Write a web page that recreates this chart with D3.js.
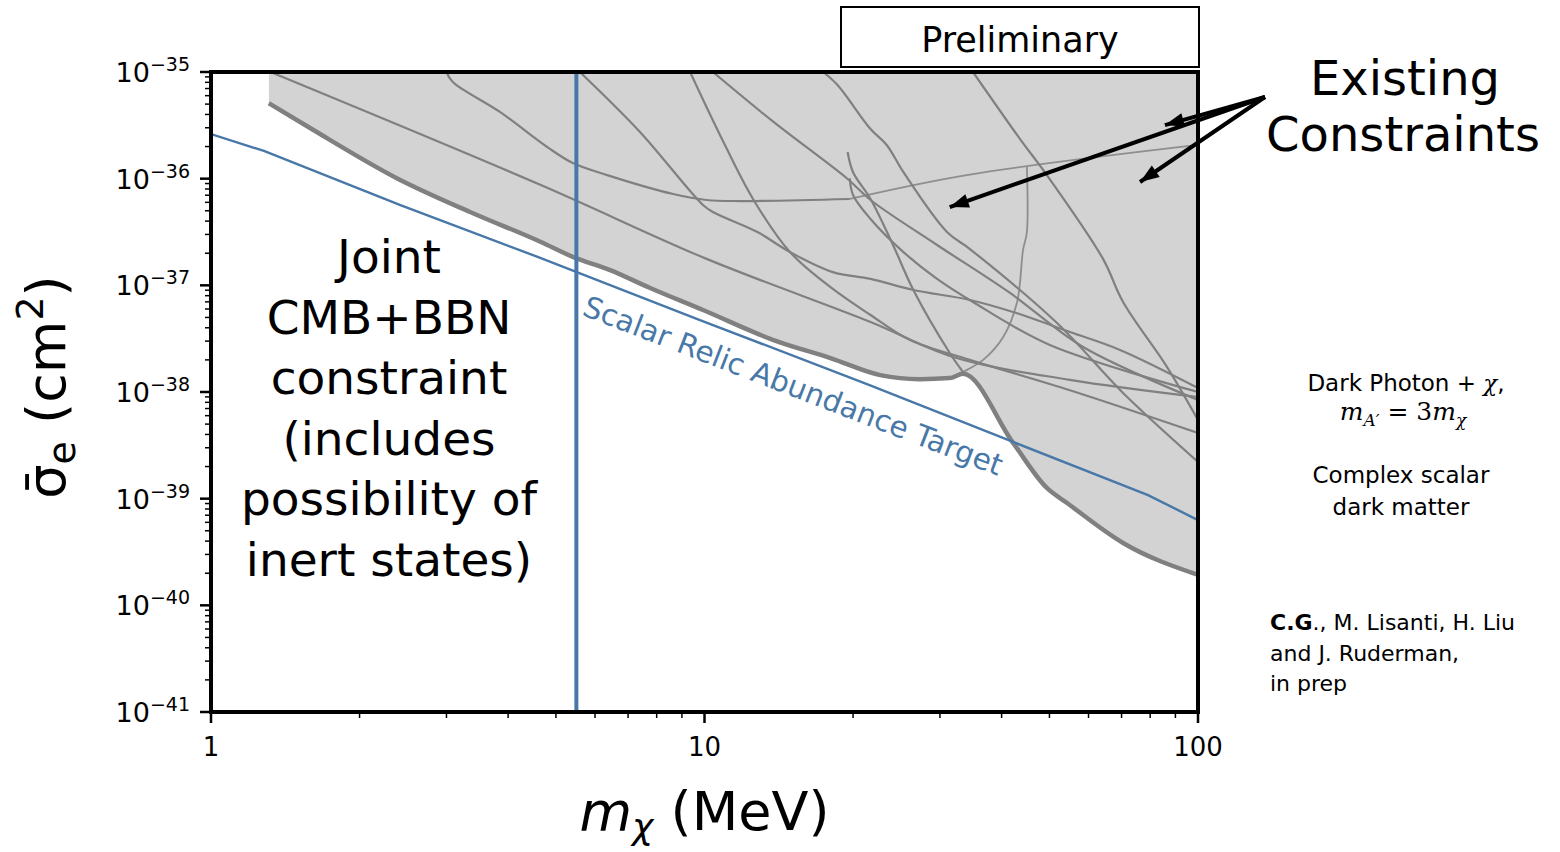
<!DOCTYPE html>
<html>
<head>
<meta charset="utf-8">
<script src="https://cdn.jsdelivr.net/npm/d3@7"></script>
<style>
  body { margin: 0; background: #fff; }
  svg { display: block; font-family: "DejaVu Sans", sans-serif; }
</style>
</head>
<body>
<svg id="chart" width="1560" height="852"></svg>
<script>
// axis ranges
const massDomain = [1, 100];          // MeV
const sigmaDomain = [1e-41, 1e-35];   // cm^2
const xTickValues = [1, 10, 100];
const yTickExponents = [-35, -36, -37, -38, -39, -40, -41];

// joint CMB+BBN bound (vertical line)
const cmbBbnMass = 5.5;

// scalar relic abundance target
const relicTarget = [
  [1, 2.62e-36], [1.28, 1.82e-36], [2.42, 5.66e-37], [4.66, 1.80e-37],
  [9.79, 4.73e-38], [21.6, 1.16e-38], [42.2, 3.40e-39], [79.2, 1.08e-39], [100, 6.3e-40]
];

// lower edge of the excluded region (thick grey)
const envelope = [
  [1.31, 5.1e-36], [1.6, 2.92e-36], [2.39, 1.0e-36], [3.35, 4.87e-37], [4.66, 2.55e-37],
  [5.41, 1.85e-37], [6.44, 1.39e-37], [7.76, 9.44e-38], [9.93, 5.87e-38], [13.8, 3.07e-38],
  [18.0, 2.08e-38], [22.7, 1.44e-38], [27.3, 1.32e-38], [31.4, 1.35e-38], [33.4, 1.48e-38],
  [42.2, 3.33e-39], [49.4, 1.26e-39], [54.3, 9.1e-40], [70.5, 3.84e-40], [100, 1.93e-40]
];

// individual existing constraints (thin grey)
const curve1 = [[1.32, 1e-35], [4.66, 8.72e-37], [10.1, 1.77e-37], [21.7, 4.53e-38], [31.9, 2.13e-38], [55, 1.30e-38], [100, 8.98e-39]];
const curve2 = [[3.0, 1e-35], [3.09, 8.05e-36], [3.85, 4.22e-36], [4.8, 1.98e-36], [5.41, 1.40e-36], [6.35, 1.08e-36], [8.64, 7.18e-37], [10.1, 6.31e-37], [11.8, 6.17e-37], [19.7, 6.45e-37]];
const curve3 = [[5.59, 1e-35], [7.40, 2.74e-36], [9.93, 5.66e-37], [10.4, 4.87e-37], [12.8, 3.16e-37], [14.9, 2.05e-37], [18.2, 1.33e-37], [21.7, 1.15e-37], [26.5, 9.04e-38], [34.5, 7.29e-38], [42.2, 5.62e-38], [55, 3.65e-38], [69.5, 2.48e-38], [100, 1.09e-38]];
const curve4 = [[9.35, 1e-35], [10.75, 2.57e-36], [12.54, 6.45e-37], [14.9, 2.05e-37], [18.2, 9.24e-38], [21.7, 5.27e-38], [26.1, 3.07e-38], [34.5, 2.0e-38], [55, 1.04e-38], [100, 4.13e-39]];
const curve5 = [[10.4, 1e-35], [13.8, 3.40e-36], [19.5, 9.93e-37], [21.7, 6.31e-37], [29.6, 2.39e-37], [41.6, 8.48e-38], [58.5, 2.64e-38], [100, 8.41e-39]];
const curve6 = [[17.4, 1e-35], [18.6, 7.55e-36], [21.7, 2.92e-36], [23.4, 2.07e-36], [25.3, 1.15e-36], [31.0, 3.16e-37], [34.5, 2.19e-37], [51.8, 4.43e-38], [70.5, 9.79e-39], [100, 2.21e-39]];
const curve7 = [[19.5, 1.78e-36], [20.0, 1.15e-36], [21.7, 6.45e-37], [24.1, 2.39e-37], [26.5, 9.04e-38], [31.4, 2.32e-38], [33.4, 1.54e-38]];
const curve8 = [[19.7, 1.01e-36], [20.0, 7.03e-37], [21.7, 4.19e-37], [25.3, 2.05e-37], [29.6, 1.15e-37], [35.0, 6.98e-38], [50.1, 2.76e-38], [100, 1.0e-38]];
const curve9 = [[35, 1e-35], [43.6, 2.35e-36], [49.4, 1.08e-36], [64.2, 1.77e-37], [70.5, 6.98e-38], [86.5, 1.72e-38], [100, 5.46e-39]];
// lighter ones
const curve2b = [[19.7, 6.45e-37], [34.0, 1.08e-36], [100, 2.07e-36]];
const curve10 = [[45.0, 1.31e-36], [45.0, 3.16e-37], [44.2, 2.14e-37], [43.0, 6.98e-38], [40.3, 3.28e-38], [36.7, 2.0e-38], [33.4, 1.54e-38], [31.4, 1.35e-38]];

const darkCurves = [curve1, curve2, curve3, curve4, curve5, curve6, curve7, curve8, curve9];
const lightCurves = [curve2b, curve10];

// where the "Existing Constraints" arrows point
const arrowTargets = [[85.7, 3.18e-36], [31.4, 5.42e-37], [76.3, 9.31e-37]];

const jointLines = ["Joint", "CMB+BBN", "constraint", "(includes", "possibility of", "inert states)"];

const blue = "#4878a8";
const grey = "#808080";

const svg = d3.select("#chart");
const width = +svg.attr("width");
const height = +svg.attr("height");
const margin = {top: 72, right: 362, bottom: 140, left: 211};

const x = d3.scaleLog().domain(massDomain).range([margin.left, width - margin.right]);
const y = d3.scaleLog().domain(sigmaDomain).range([height - margin.bottom, margin.top]);

svg.append("defs").append("clipPath").attr("id", "plotclip")
  .append("rect")
    .attr("x", margin.left).attr("y", margin.top)
    .attr("width", x.range()[1] - margin.left)
    .attr("height", y.range()[0] - margin.top);

svg.select("defs").append("marker")
    .attr("id", "head")
    .attr("markerUnits", "userSpaceOnUse")
    .attr("viewBox", "-20 -9 22 18")
    .attr("markerWidth", 22).attr("markerHeight", 18)
    .attr("refX", 0).attr("refY", 0)
    .attr("orient", "auto")
  .append("path")
    .attr("d", "M0,0 L-19,-7 L-19,7 Z")
    .attr("fill", "#000");

const plot = svg.append("g").attr("clip-path", "url(#plotclip)");

const smooth = d3.line().x(d => x(d[0])).y(d => y(d[1])).curve(d3.curveCatmullRom.alpha(0.5));
const straight = d3.line().x(d => x(d[0])).y(d => y(d[1]));
const edge = d3.line().x(d => x(d[0])).y(d => y(d[1])).curve(d3.curveMonotoneX);

// shaded excluded region
const shade = [[envelope[0][0], sigmaDomain[1]], [massDomain[1], sigmaDomain[1]]];
plot.append("path")
    .attr("d", straight(shade) + "L" + edge(envelope.slice().reverse()).slice(1) + "Z")
    .attr("fill", "#d3d3d3");

plot.selectAll(".lite").data(lightCurves).enter().append("path")
    .attr("class", "lite")
    .attr("d", smooth)
    .attr("fill", "none")
    .attr("stroke", "#8e8e8e")
    .attr("stroke-width", 1.8);

plot.selectAll(".cons").data(darkCurves).enter().append("path")
    .attr("class", "cons")
    .attr("d", smooth)
    .attr("fill", "none")
    .attr("stroke", grey)
    .attr("stroke-width", 2.2);

plot.append("path")
    .attr("d", edge(envelope))
    .attr("fill", "none")
    .attr("stroke", grey)
    .attr("stroke-width", 4.5)
    .attr("stroke-linejoin", "round");

plot.append("path")
    .attr("d", straight(relicTarget))
    .attr("fill", "none")
    .attr("stroke", blue)
    .attr("stroke-width", 2.4);

plot.append("line")
    .attr("x1", x(cmbBbnMass)).attr("x2", x(cmbBbnMass))
    .attr("y1", y(sigmaDomain[1])).attr("y2", y(sigmaDomain[0]))
    .attr("stroke", blue)
    .attr("stroke-width", 4);

// label along the relic line
const p0 = [x(relicTarget[3][0]), y(relicTarget[3][1])];
const p1 = [x(relicTarget[5][0]), y(relicTarget[5][1])];
const angle = Math.atan2(p1[1] - p0[1], p1[0] - p0[0]) * 180 / Math.PI;
svg.append("text")
    .attr("transform", `translate(${x(5.62)},${y(5.3e-38)}) rotate(${angle})`)
    .attr("font-size", 29.5)
    .attr("fill", blue)
    .text("Scalar Relic Abundance Target");

// joint constraint text
svg.append("text")
    .attr("text-anchor", "middle")
    .attr("font-size", 47)
    .selectAll("tspan").data(jointLines).enter().append("tspan")
    .attr("x", 389)
    .attr("y", (d, i) => 273 + i * 60.6)
    .text(d => d);

// frame
svg.append("rect")
    .attr("x", margin.left).attr("y", margin.top)
    .attr("width", x.range()[1] - margin.left)
    .attr("height", y.range()[0] - margin.top)
    .attr("fill", "none")
    .attr("stroke", "#000")
    .attr("stroke-width", 4);

// y ticks
const yMinor = [];
for (let k = -41; k < -35; k++) for (let j = 2; j <= 9; j++) yMinor.push(j * Math.pow(10, k));
const yMajor = yTickExponents.map(e => Math.pow(10, e));
svg.append("g").selectAll("line").data(yMinor).enter().append("line")
    .attr("x1", margin.left - 6).attr("x2", margin.left)
    .attr("y1", d => y(d)).attr("y2", d => y(d))
    .attr("stroke", "#000").attr("stroke-width", 1.5);
svg.append("g").selectAll("line").data(yMajor).enter().append("line")
    .attr("x1", margin.left - 11).attr("x2", margin.left)
    .attr("y1", d => y(d)).attr("y2", d => y(d))
    .attr("stroke", "#000").attr("stroke-width", 2.5);
const yLab = svg.append("g").selectAll("text").data(yTickExponents).enter().append("text")
    .attr("x", margin.left - 21)
    .attr("y", d => y(Math.pow(10, d)) + 10)
    .attr("text-anchor", "end")
    .attr("font-size", 27);
yLab.append("tspan").text("10");
yLab.append("tspan").attr("dy", -11).attr("font-size", 19).text(d => "\u2212" + (-d));

// x ticks
const xMinor = [];
for (let k = 0; k < 2; k++) for (let j = 2; j <= 9; j++) xMinor.push(j * Math.pow(10, k));
const xBase = y.range()[0];
svg.append("g").selectAll("line").data(xMinor).enter().append("line")
    .attr("x1", d => x(d)).attr("x2", d => x(d))
    .attr("y1", xBase).attr("y2", xBase + 6)
    .attr("stroke", "#000").attr("stroke-width", 1.5);
svg.append("g").selectAll("line").data(xTickValues).enter().append("line")
    .attr("x1", d => x(d)).attr("x2", d => x(d))
    .attr("y1", xBase).attr("y2", xBase + 11)
    .attr("stroke", "#000").attr("stroke-width", 2.5);
svg.append("g").selectAll("text").data(xTickValues).enter().append("text")
    .attr("x", d => x(d))
    .attr("y", xBase + 44)
    .attr("text-anchor", "middle")
    .attr("font-size", 26)
    .text(d => d);

// axis titles
const xt = svg.append("text")
    .attr("x", (margin.left + x.range()[1]) / 2)
    .attr("y", 830)
    .attr("text-anchor", "middle")
    .attr("font-size", 54);
xt.append("tspan").attr("font-style", "italic").text("m");
xt.append("tspan").attr("font-style", "italic").attr("font-size", 36).attr("dy", 9).text("\u03c7");
xt.append("tspan").attr("dy", -9).text(" (MeV)");

const yt = svg.append("text")
    .attr("transform", "translate(65,387) rotate(-90)")
    .attr("text-anchor", "middle")
    .attr("font-size", 54);
yt.append("tspan").text("\u03c3\u0304");
yt.append("tspan").attr("font-size", 38).attr("dy", 10).text("e");
yt.append("tspan").attr("dy", -10).text(" (cm");
yt.append("tspan").attr("font-size", 38).attr("dy", -22).text("2");
yt.append("tspan").attr("dy", 22).text(")");

// "Preliminary" box
svg.append("rect")
    .attr("x", 841).attr("y", 7).attr("width", 358).attr("height", 60)
    .attr("fill", "#fff").attr("stroke", "#000").attr("stroke-width", 2);
svg.append("text")
    .attr("x", 1020).attr("y", 52)
    .attr("text-anchor", "middle")
    .attr("font-size", 35)
    .text("Preliminary");

// Existing constraints + arrows
svg.append("text")
    .attr("text-anchor", "middle")
    .attr("font-size", 48)
    .selectAll("tspan").data(["Existing", "Constraints"]).enter().append("tspan")
    .attr("x", (d, i) => i ? 1403 : 1405)
    .attr("y", (d, i) => 95 + i * 56)
    .text(d => d);

const origin = [1265, 97];
svg.append("g").selectAll("line").data(arrowTargets).enter().append("line")
    .attr("x1", origin[0]).attr("y1", origin[1])
    .attr("x2", d => x(d[0])).attr("y2", d => y(d[1]))
    .attr("stroke", "#000")
    .attr("stroke-width", 4)
    .attr("marker-end", "url(#head)");

// side notes
const notes = svg.append("g").attr("font-size", 23).attr("fill", "#000");
const dp = notes.append("text").attr("x", 1406).attr("y", 391).attr("text-anchor", "middle");
dp.append("tspan").text("Dark Photon + ");
dp.append("tspan").attr("font-family", "DejaVu Serif").attr("font-style", "italic").text("\u03c7");
dp.append("tspan").text(",");

const mm = notes.append("text").attr("x", 1403).attr("y", 420).attr("text-anchor", "middle")
    .attr("font-family", "DejaVu Serif").attr("font-size", 25);
mm.append("tspan").attr("font-style", "italic").text("m");
mm.append("tspan").attr("font-style", "italic").attr("font-size", 17).attr("dy", 6).text("A\u2032");
mm.append("tspan").attr("dy", -6).text(" = 3");
mm.append("tspan").attr("font-style", "italic").text("m");
mm.append("tspan").attr("font-style", "italic").attr("font-size", 17).attr("dy", 6).text("\u03c7");

notes.append("text").attr("text-anchor", "middle")
  .selectAll("tspan").data(["Complex scalar", "dark matter"]).enter().append("tspan")
    .attr("x", 1401).attr("y", (d, i) => 483 + i * 32).text(d => d);

const cite = notes.append("text").attr("font-size", 22);
const c1 = cite.append("tspan").attr("x", 1270).attr("y", 630);
c1.append("tspan").attr("font-weight", "bold").text("C.G");
c1.append("tspan").text("., M. Lisanti, H. Liu");
cite.append("tspan").attr("x", 1270).attr("y", 661).text("and J. Ruderman,");
cite.append("tspan").attr("x", 1270).attr("y", 691).text("in prep");
</script>
</body>
</html>
